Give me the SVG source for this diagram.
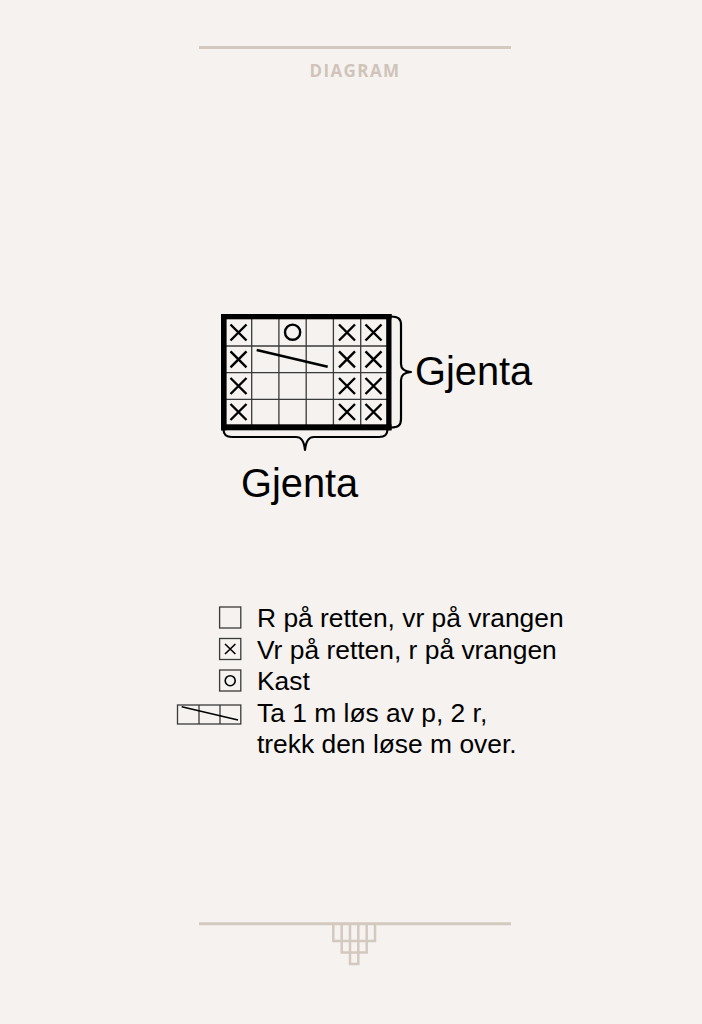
<svg xmlns="http://www.w3.org/2000/svg" width="702" height="1024" viewBox="0 0 702 1024">
<defs>
<style>
.deco{stroke:#d4c9bf;fill:none;stroke-width:3}
.orn{stroke:#d4c9bf;fill:none;stroke-width:2.5}
.grid{stroke:#3a3a3a;stroke-width:1.3;fill:none}
.thick{fill:#000}
.mark{stroke:#000;stroke-width:2.4;fill:none;stroke-linecap:butt}
.brace{stroke:#000;stroke-width:2.2;fill:none;stroke-linejoin:round}
.big{font-family:"Liberation Sans",Arial,sans-serif;font-size:39.8px;fill:#000}
.leg{font-family:"Liberation Sans",Arial,sans-serif;font-size:26.4px;fill:#000}
.lbox{stroke:#3a3a3a;stroke-width:1.3;fill:none}
.lmark{stroke:#000;stroke-width:1.6;fill:none}
.title{font-family:"Open Sans","Liberation Sans",sans-serif;font-weight:bold;font-size:17px;letter-spacing:1.4px;fill:#d0c4ba}
</style>
</defs>
<rect x="0" y="0" width="702" height="1024" fill="#f5f2ef"/>

<g id="header">
<line class="deco" x1="199" y1="47.5" x2="511" y2="47.5"/>
<text class="title" x="355" y="77" text-anchor="middle">DIAGRAM</text>
</g>

<g id="chart">
<g class="grid">
<line x1="251.7" y1="319" x2="251.7" y2="425"/>
<line x1="278.9" y1="319" x2="278.9" y2="425"/>
<line x1="306.2" y1="319" x2="306.2" y2="425"/>
<line x1="333.4" y1="319" x2="333.4" y2="425"/>
<line x1="360.7" y1="319" x2="360.7" y2="425"/>
<line x1="224" y1="346" x2="389" y2="346"/>
<line x1="224" y1="372.7" x2="389" y2="372.7"/>
<line x1="224" y1="399.3" x2="389" y2="399.3"/>
</g>
<rect class="thick" x="221" y="314" width="170.5" height="5.3"/>
<rect class="thick" x="221" y="424.3" width="170.5" height="6"/>
<rect class="thick" x="221" y="314" width="5.6" height="116.3"/>
<rect class="thick" x="386.2" y="314" width="5.3" height="116.3"/>
<g class="mark">
<path d="M230.5,324.5 L246.5,340.5 M246.5,324.5 L230.5,340.5"/>
<path d="M230.5,351.3 L246.5,367.3 M246.5,351.3 L230.5,367.3"/>
<path d="M230.5,378 L246.5,394 M246.5,378 L230.5,394"/>
<path d="M230.5,404 L246.5,420 M246.5,404 L230.5,420"/>
<path d="M339,324.5 L355,340.5 M355,324.5 L339,340.5"/>
<path d="M339,351.3 L355,367.3 M355,351.3 L339,367.3"/>
<path d="M339,378 L355,394 M355,378 L339,394"/>
<path d="M339,404 L355,420 M355,404 L339,420"/>
<path d="M365.5,324.5 L381.5,340.5 M381.5,324.5 L365.5,340.5"/>
<path d="M365.5,351.3 L381.5,367.3 M381.5,351.3 L365.5,367.3"/>
<path d="M365.5,378 L381.5,394 M381.5,378 L365.5,394"/>
<path d="M365.5,404 L381.5,420 M381.5,404 L365.5,420"/>
<circle cx="292.6" cy="332.2" r="7.6"/>
<line x1="256.7" y1="350" x2="327.7" y2="366.7" stroke-width="2.5"/>
</g>
</g>

<g id="brace-right">
<path class="brace" d="M391,316.5 C398,316.5 401,318.5 401,325 L401,364 C401,369 404,371.5 411,372 C404,372.5 401,375 401,380 L401,419 C401,425.5 398,427.5 391,427.5"/>
<text class="big" x="415" y="385">Gjenta</text>
</g>

<g id="brace-bottom">
<path class="brace" d="M223.5,429 C223.5,434.5 225.5,437 232,437 L296,437 C301,437 304,440 305,450 C306,440 309,437 314,437 L379,437 C385.5,437 387.5,434.5 387.5,429"/>
<text class="big" x="241" y="497">Gjenta</text>
</g>

<g id="legend">
<g id="leg-knit">
<rect class="lbox" x="219.6" y="607" width="21.2" height="21"/>
<text class="leg" x="257" y="627">R på retten, vr på vrangen</text>
</g>
<g id="leg-purl">
<rect class="lbox" x="219.6" y="638.5" width="21.2" height="21"/>
<path class="lmark" d="M225,644 L235.4,654 M235.4,644 L225,654"/>
<text class="leg" x="257" y="658.5">Vr på retten, r på vrangen</text>
</g>
<g id="leg-yo">
<rect class="lbox" x="219.6" y="670" width="21.2" height="21"/>
<circle class="lmark" cx="230.2" cy="680.7" r="5" stroke-width="1.9"/>
<text class="leg" x="257" y="690">Kast</text>
</g>
<g id="leg-skp">
<rect class="lbox" x="177.5" y="705" width="63.3" height="19"/>
<line class="lbox" x1="199" y1="705" x2="199" y2="724"/>
<line class="lbox" x1="220" y1="705" x2="220" y2="724"/>
<line class="lmark" x1="181.7" y1="706.7" x2="238" y2="720" stroke-width="2"/>
<text class="leg" x="257" y="721.5">Ta 1 m løs av p, 2 r,</text>
<text class="leg" x="257" y="753">trekk den løse m over.</text>
</g>
</g>

<g id="footer">
<line class="deco" x1="199" y1="923.7" x2="511" y2="923.7"/>
<path class="orn" d="M333.3,923.7 V941 H375 V923.7 M341.7,923.7 V952.5 H366.7 V923.7 M350,923.7 V964 H358.3 V923.7 M341.7,941 H366.7"/>
</g>
</svg>
